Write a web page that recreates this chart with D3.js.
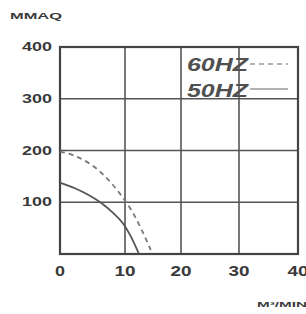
<!DOCTYPE html>
<html>
<head>
<meta charset="utf-8">
<script src="https://cdn.jsdelivr.net/npm/d3@7"></script>
<style>
  body { margin: 0; background: #fff; }
  svg { display: block; }
  text { font-family: "Liberation Sans", Arial, sans-serif; fill: #3a3a3a; }
</style>
</head>
<body>
<svg id="chart" width="306" height="314"></svg>
<script>
// tick labels
const xTicks = [0, 10, 20, 30, 40];
const yTicks = [100, 200, 300, 400];
const yTickLabels = ["100", "200", "300", "400"];

// curves (flow m3/min, pressure mmAq)
const flow60 = [0, 2, 5.9, 7.9, 10, 11.5, 13, 14.6];
const press60 = [198, 191, 162, 137, 103, 78, 46, 8];
const flow50 = [0, 2.3, 4.4, 6.4, 8.2, 9.7, 10.9, 12.5];
const press50 = [138, 127, 114, 98, 79, 59, 37, 0];

const legendLabels = ["60HZ", "50HZ"];

const svg = d3.select("#chart");

// picture is slightly uneven horizontally, so a piecewise scale
const x = d3.scaleLinear().domain(xTicks).range([60, 125, 181, 239, 298]);
const y = d3.scaleLinear().domain([0, 400]).range([254, 47]);

// grid
svg.append("g")
  .selectAll("line")
  .data(xTicks.slice(1, -1))
  .enter()
  .append("line")
  .attr("x1", d => x(d)).attr("x2", d => x(d))
  .attr("y1", y(0)).attr("y2", y(400))
  .attr("stroke", "#555").attr("stroke-width", 1.6);

svg.append("g")
  .selectAll("line")
  .data(yTicks.slice(0, -1))
  .enter()
  .append("line")
  .attr("x1", x(0)).attr("x2", x(40))
  .attr("y1", d => y(d)).attr("y2", d => y(d))
  .attr("stroke", "#555").attr("stroke-width", 1.6);

// frame
svg.append("rect")
  .attr("x", x(0)).attr("y", y(400))
  .attr("width", x(40) - x(0)).attr("height", y(0) - y(400))
  .attr("fill", "none").attr("stroke", "#444").attr("stroke-width", 2.2);

// y tick labels
svg.append("g")
  .selectAll("text")
  .data(yTicks)
  .enter()
  .append("text")
  .attr("x", x(0) - 8)
  .attr("y", d => y(d) + 4)
  .attr("text-anchor", "end")
  .attr("font-size", 13)
  .attr("font-weight", "bold")
  .attr("textLength", 30)
  .attr("lengthAdjust", "spacingAndGlyphs")
  .text((d, i) => yTickLabels[i]);

// x tick labels
svg.append("g")
  .selectAll("text")
  .data(xTicks)
  .enter()
  .append("text")
  .attr("x", d => x(d))
  .attr("y", y(0) + 22)
  .attr("text-anchor", "middle")
  .attr("font-size", 14)
  .attr("font-weight", "bold")
  .attr("textLength", d => d === 0 ? 10 : 21)
  .attr("lengthAdjust", "spacingAndGlyphs")
  .text(d => d);

// axis titles
svg.append("text")
  .attr("x", 10).attr("y", 19)
  .attr("font-size", 9).attr("font-weight", "bold")
  .attr("textLength", 52).attr("lengthAdjust", "spacingAndGlyphs")
  .text("MMAQ");

svg.append("text")
  .attr("x", 257).attr("y", 307)
  .attr("font-size", 8).attr("font-weight", "bold")
  .attr("textLength", 50).attr("lengthAdjust", "spacingAndGlyphs")
  .text("M³/MIN");

// curves
const line = d3.line()
  .x(d => x(d[0]))
  .y(d => y(d[1]))
  .curve(d3.curveMonotoneX);

svg.append("path")
  .datum(d3.zip(flow60, press60))
  .attr("d", line)
  .attr("fill", "none")
  .attr("stroke", "#777")
  .attr("stroke-width", 1.8)
  .attr("stroke-dasharray", "5,4");

svg.append("path")
  .datum(d3.zip(flow50, press50))
  .attr("d", line)
  .attr("fill", "none")
  .attr("stroke", "#555")
  .attr("stroke-width", 1.8);

// legend
const legend = svg.append("g");
legend.selectAll("text")
  .data(legendLabels)
  .enter()
  .append("text")
  .attr("x", 187)
  .attr("y", (d, i) => 71 + i * 26)
  .attr("font-size", 18)
  .attr("font-style", "italic")
  .attr("font-weight", "bold")
  .attr("textLength", 61)
  .attr("lengthAdjust", "spacingAndGlyphs")
  .style("fill", "#505050")
  .text(d => d);

legend.selectAll("line")
  .data(legendLabels)
  .enter()
  .append("line")
  .attr("x1", 250).attr("x2", 288)
  .attr("y1", (d, i) => 64 + i * 25)
  .attr("y2", (d, i) => 64 + i * 25)
  .attr("stroke", "#666")
  .attr("stroke-width", 1.2)
  .attr("stroke-dasharray", (d, i) => i === 0 ? "5,4" : null);
</script>
</body>
</html>
